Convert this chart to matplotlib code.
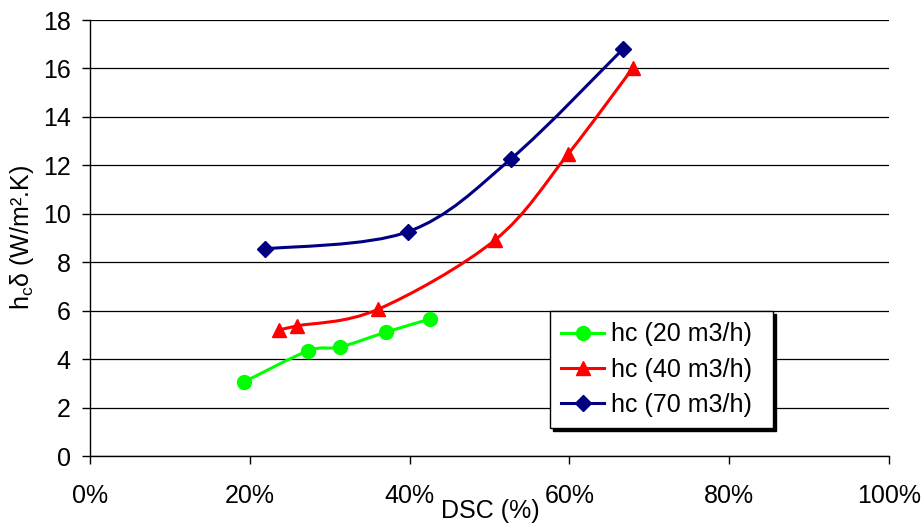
import numpy as np
import matplotlib
matplotlib.use("Agg")
import matplotlib.pyplot as plt
from matplotlib.path import Path
from matplotlib.patches import PathPatch
from matplotlib.lines import Line2D
from matplotlib.ticker import FuncFormatter

plt.rcParams['font.family'] = ['Liberation Sans', 'DejaVu Sans']

# Data
dsc_20 = [19.3, 27.3, 31.3, 37.1, 42.6]
hc_20 = [3.06, 4.34, 4.50, 5.12, 5.66]
dsc_40 = [23.7, 25.9, 36.0, 50.7, 59.8, 67.9]
hc_40 = [5.20, 5.37, 6.05, 8.92, 12.45, 16.0]
dsc_70 = [21.9, 39.8, 52.7, 66.7]
hc_70 = [8.55, 9.26, 12.27, 16.8]

series = [
    ("hc (20 m3/h)", dsc_20, hc_20, "#00FF00", "o", 10),
    ("hc (40 m3/h)", dsc_40, hc_40, "#FF0000", "^", 10.5),
    ("hc (70 m3/h)", dsc_70, hc_70, "#000080", "D", 8.5),
]

x_ticks = [0, 20, 40, 60, 80, 100]
y_ticks = [0, 2, 4, 6, 8, 10, 12, 14, 16, 18]


def smooth_path(xs, ys):
    pts = np.column_stack([xs, ys]).astype(float)
    n = len(pts)
    verts = [pts[0]]
    codes = [Path.MOVETO]
    for i in range(n - 1):
        p0 = pts[i - 1] if i > 0 else pts[i]
        p1 = pts[i]
        p2 = pts[i + 1]
        p3 = pts[i + 2] if i + 2 < n else pts[i + 1]
        c1 = p1 + (p2 - p0) / 6.0
        c2 = p2 - (p3 - p1) / 6.0
        verts += [c1, c2, p2]
        codes += [Path.CURVE4] * 3
    return Path(verts, codes)


FS = 18

fig = plt.figure(figsize=(9.22, 5.25), dpi=100)
ax = fig.add_axes([90 / 922, 1 - 456 / 525, 799 / 922, 436 / 525])

handles = []
for label, xs, ys, color, marker, ms in series:
    patch = PathPatch(smooth_path(xs, ys), facecolor='none', edgecolor=color,
                      lw=2.2, zorder=3)
    ax.add_patch(patch)
    ax.plot(xs, ys, linestyle='none', marker=marker, markersize=ms,
            color=color, markeredgecolor=color, zorder=4)
    handles.append(Line2D([], [], color=color, lw=2.2, marker=marker,
                          markersize=ms, markeredgecolor=color, label=label))

ax.set_xlim(0, 100)
ax.set_ylim(0, 18)
ax.set_xticks(x_ticks)
ax.set_yticks(y_ticks)
ax.xaxis.set_major_formatter(FuncFormatter(lambda v, p: f"{int(v)}%"))
ax.yaxis.grid(True, color='black', lw=0.9)
ax.set_axisbelow(True)
for s in ['top', 'right']:
    ax.spines[s].set_visible(False)
for s in ['left', 'bottom']:
    ax.spines[s].set_color('black')
    ax.spines[s].set_linewidth(1.0)
ax.tick_params(axis='both', direction='out', length=6, width=1, colors='black',
               labelsize=FS)
ax.tick_params(axis='x', pad=14)
ax.tick_params(axis='y', pad=8)

fig.text(490 / 922, 1 - 511 / 525, "DSC (%)", ha='center', va='center', fontsize=FS)
fig.text(22 / 922, 1 - 238 / 525, r"h$_\mathregular{c}$δ (W/m².K)", ha='center',
         va='center', rotation=90, fontsize=FS)

leg = ax.legend(handles=handles, loc='lower left',
                bbox_to_anchor=(0.576, 0.064, 0.279, 0.285), mode='expand',
                fontsize=FS, frameon=True, fancybox=False,
                shadow={'color': 'black', 'alpha': 1.0},
                borderpad=0.45, labelspacing=0.45, handlelength=1.7,
                handletextpad=0.3, borderaxespad=0)
leg.get_frame().set_edgecolor('black')
leg.get_frame().set_linewidth(1.0)
leg.get_frame().set_alpha(1.0)

fig.savefig("out.png", dpi=100)
